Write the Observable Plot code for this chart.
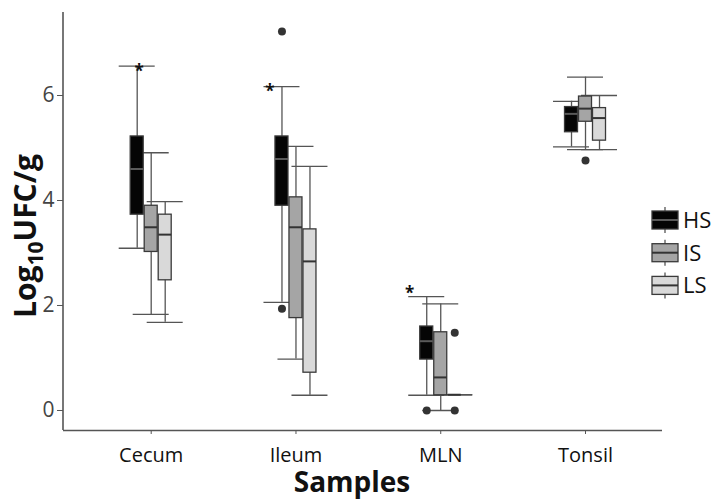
<!DOCTYPE html>
<html>
<head>
<meta charset="utf-8">
<script src="https://cdn.jsdelivr.net/npm/d3@7"></script>
<script src="https://cdn.jsdelivr.net/npm/@observablehq/plot@0.6"></script>
<style>
  body { margin: 0; background: #fff; }
  svg { display: block; }
</style>
</head>
<body>
<div id="chart"></div>
<script>
// Bacterial counts (log10 CFU/g) per sample site and shedding group
const samples = ["Cecum", "Ileum", "MLN", "Tonsil"];
const groups = ["HS", "IS", "LS"];

// Box statistics, ordered sample by sample, HS / IS / LS within each
const boxSample = samples.flatMap(s => groups.map(() => s));
const boxGroup = samples.flatMap(() => groups);
const whiskerLow  = [3.09, 1.83, 1.68,  2.06, 0.98, 0.29,  0.29, 0.00, 0.30,  5.02, 4.97, 4.97];
const lowerQuart  = [3.73, 3.02, 2.48,  3.90, 1.76, 0.72,  0.97, 0.29, 0.30,  5.30, 5.50, 5.14];
const medianValue = [4.60, 3.49, 3.35,  4.79, 3.49, 2.84,  1.32, 0.63, 0.30,  5.65, 5.75, 5.57];
const upperQuart  = [5.22, 3.90, 3.73,  5.22, 4.06, 3.45,  1.60, 1.49, 0.30,  5.78, 5.98, 5.76];
const whiskerHigh = [6.56, 4.91, 3.98,  6.17, 5.03, 4.65,  2.17, 2.03, 0.30,  5.89, 6.35, 6.00];

// Outlying observations
const outlierSample = ["Ileum", "Ileum", "MLN", "MLN", "MLN", "Tonsil"];
const outlierGroup  = ["HS", "HS", "HS", "LS", "LS", "IS"];
const outlierValue  = [7.22, 1.94, 0.00, 1.48, 0.00, 4.76];

// Significance marks placed above the HS whiskers
const starSample = ["Cecum", "Ileum", "MLN"];
const starValue  = [6.56, 6.17, 2.32];

const yTicks = [0, 2, 4, 6];

const boxes = boxSample.map((s, i) => ({
  sample: s, group: boxGroup[i],
  lo: whiskerLow[i], q1: lowerQuart[i], med: medianValue[i], q3: upperQuart[i], hi: whiskerHigh[i]
}));
const outliers = outlierSample.map((s, i) => ({sample: s, group: outlierGroup[i], value: outlierValue[i]}));

const fills = {HS: "#050505", IS: "#a5a5a5", LS: "#d9d9d9"};
const medianStroke = {HS: "#5a5a5a", IS: "#333", LS: "#333"};
const lineColor = "#555";
const dodgeStep = 14;
const dodge = g => (groups.indexOf(g) - 1) * dodgeStep;

// Band layout: narrow bands (one box wide) centred on each sample position
const firstCenter = 150.7, step = 144.77, boxWidth = 13;
const pad = 1 - boxWidth / step;
const x0 = firstCenter - step * (1 + pad) / 2;
const yDomain = [-0.381, 7.581];
const capInset = -11.5;

const whiskerMarks = groups.flatMap(g => {
  const d = boxes.filter(r => r.group === g);
  const dx = dodge(g);
  return [
    Plot.ruleX(d, {x: "sample", y1: "lo", y2: "hi", dx, stroke: lineColor, strokeWidth: 1.3}),
    Plot.tickY(d, {x: "sample", y: "lo", dx, stroke: lineColor, strokeWidth: 1.3, insetLeft: capInset, insetRight: capInset}),
    Plot.tickY(d, {x: "sample", y: "hi", dx, stroke: lineColor, strokeWidth: 1.3, insetLeft: capInset, insetRight: capInset})
  ];
});

const boxMarks = groups.flatMap(g => {
  const d = boxes.filter(r => r.group === g);
  const dx = dodge(g);
  return [
    Plot.barY(d, {x: "sample", y1: "q1", y2: "q3", dx, fill: fills[g], stroke: "#3a3a3a", strokeWidth: 1.3}),
    Plot.tickY(d, {x: "sample", y: "med", dx, stroke: medianStroke[g], strokeWidth: 2})
  ];
});

const outlierMarks = groups.map(g =>
  Plot.dot(outliers.filter(o => o.group === g), {x: "sample", y: "value", dx: dodge(g), r: 4, fill: "#333", stroke: "none"})
);

const starShift = {Cecum: -12, Ileum: -26, MLN: -31};
const starMarks = starSample.map((s, i) =>
  Plot.text([{sample: s, value: starValue[i]}], {
    x: "sample", y: "value", text: () => "*", dx: starShift[s], dy: 5,
    fontSize: 17, fontWeight: "bold", fill: "#111"
  })
);

const chart = Plot.plot({
  width: 712,
  height: 500,
  marginLeft: 63,
  marginRight: 50,
  marginTop: 12,
  marginBottom: 70,
  style: {fontFamily: "'Open Sans', sans-serif", fontSize: "20px", background: "#fff", overflow: "visible"},
  x: {type: "band", domain: samples, range: [x0, x0 + step * (samples.length + pad)],
      paddingInner: pad, paddingOuter: pad, align: 0.5, round: false},
  y: {domain: yDomain},
  marks: [
    Plot.axisX({label: null, tickSize: 4, tickPadding: 13, fontSize: 20, stroke: lineColor, fill: "#111"}),
    Plot.axisY({ticks: yTicks, label: null, tickSize: 6, tickPadding: 3, fontSize: 21, stroke: lineColor, fill: "#444"}),
    Plot.ruleY([yDomain[0]], {stroke: lineColor, strokeWidth: 1.6}),
    ...whiskerMarks,
    ...boxMarks,
    ...outlierMarks,
    ...starMarks
  ]
});

const svg = d3.select(chart);

// Left axis line
svg.append("line")
  .attr("x1", 63).attr("x2", 63)
  .attr("y1", 12).attr("y2", 430)
  .attr("stroke", lineColor).attr("stroke-width", 1.6);

// Axis titles
svg.append("text")
  .attr("x", 352).attr("y", 492)
  .attr("text-anchor", "middle")
  .attr("font-size", 28).attr("font-weight", "bold").attr("fill", "#111")
  .text("Samples");

const yTitle = svg.append("text")
  .attr("transform", "translate(36,236) rotate(-90)")
  .attr("text-anchor", "middle")
  .attr("font-size", 30).attr("font-weight", "bold").attr("fill", "#111");
yTitle.append("tspan").text("Log");
yTitle.append("tspan").attr("font-size", 21).attr("dy", 7).text("10");
yTitle.append("tspan").attr("dy", -7).text("UFC/g");

// Legend
const legend = svg.append("g").attr("transform", "translate(652,211)");
groups.forEach((g, i) => {
  const row = legend.append("g").attr("transform", `translate(0,${i * 32.7})`);
  row.append("line").attr("x1", 13).attr("x2", 13).attr("y1", -4).attr("y2", 22)
    .attr("stroke", lineColor).attr("stroke-width", 1.3);
  row.append("rect").attr("x", 0).attr("y", 0).attr("width", 26).attr("height", 18)
    .attr("fill", fills[g]).attr("stroke", "#3a3a3a").attr("stroke-width", 1.3);
  row.append("line").attr("x1", 0).attr("x2", 26).attr("y1", 9).attr("y2", 9)
    .attr("stroke", medianStroke[g]).attr("stroke-width", 2);
  row.append("text").attr("x", 31).attr("y", 17)
    .attr("text-anchor", "start")
    .attr("font-size", 22).attr("fill", "#111").text(g);
});

document.getElementById("chart").appendChild(chart);
</script>
</body>
</html>
